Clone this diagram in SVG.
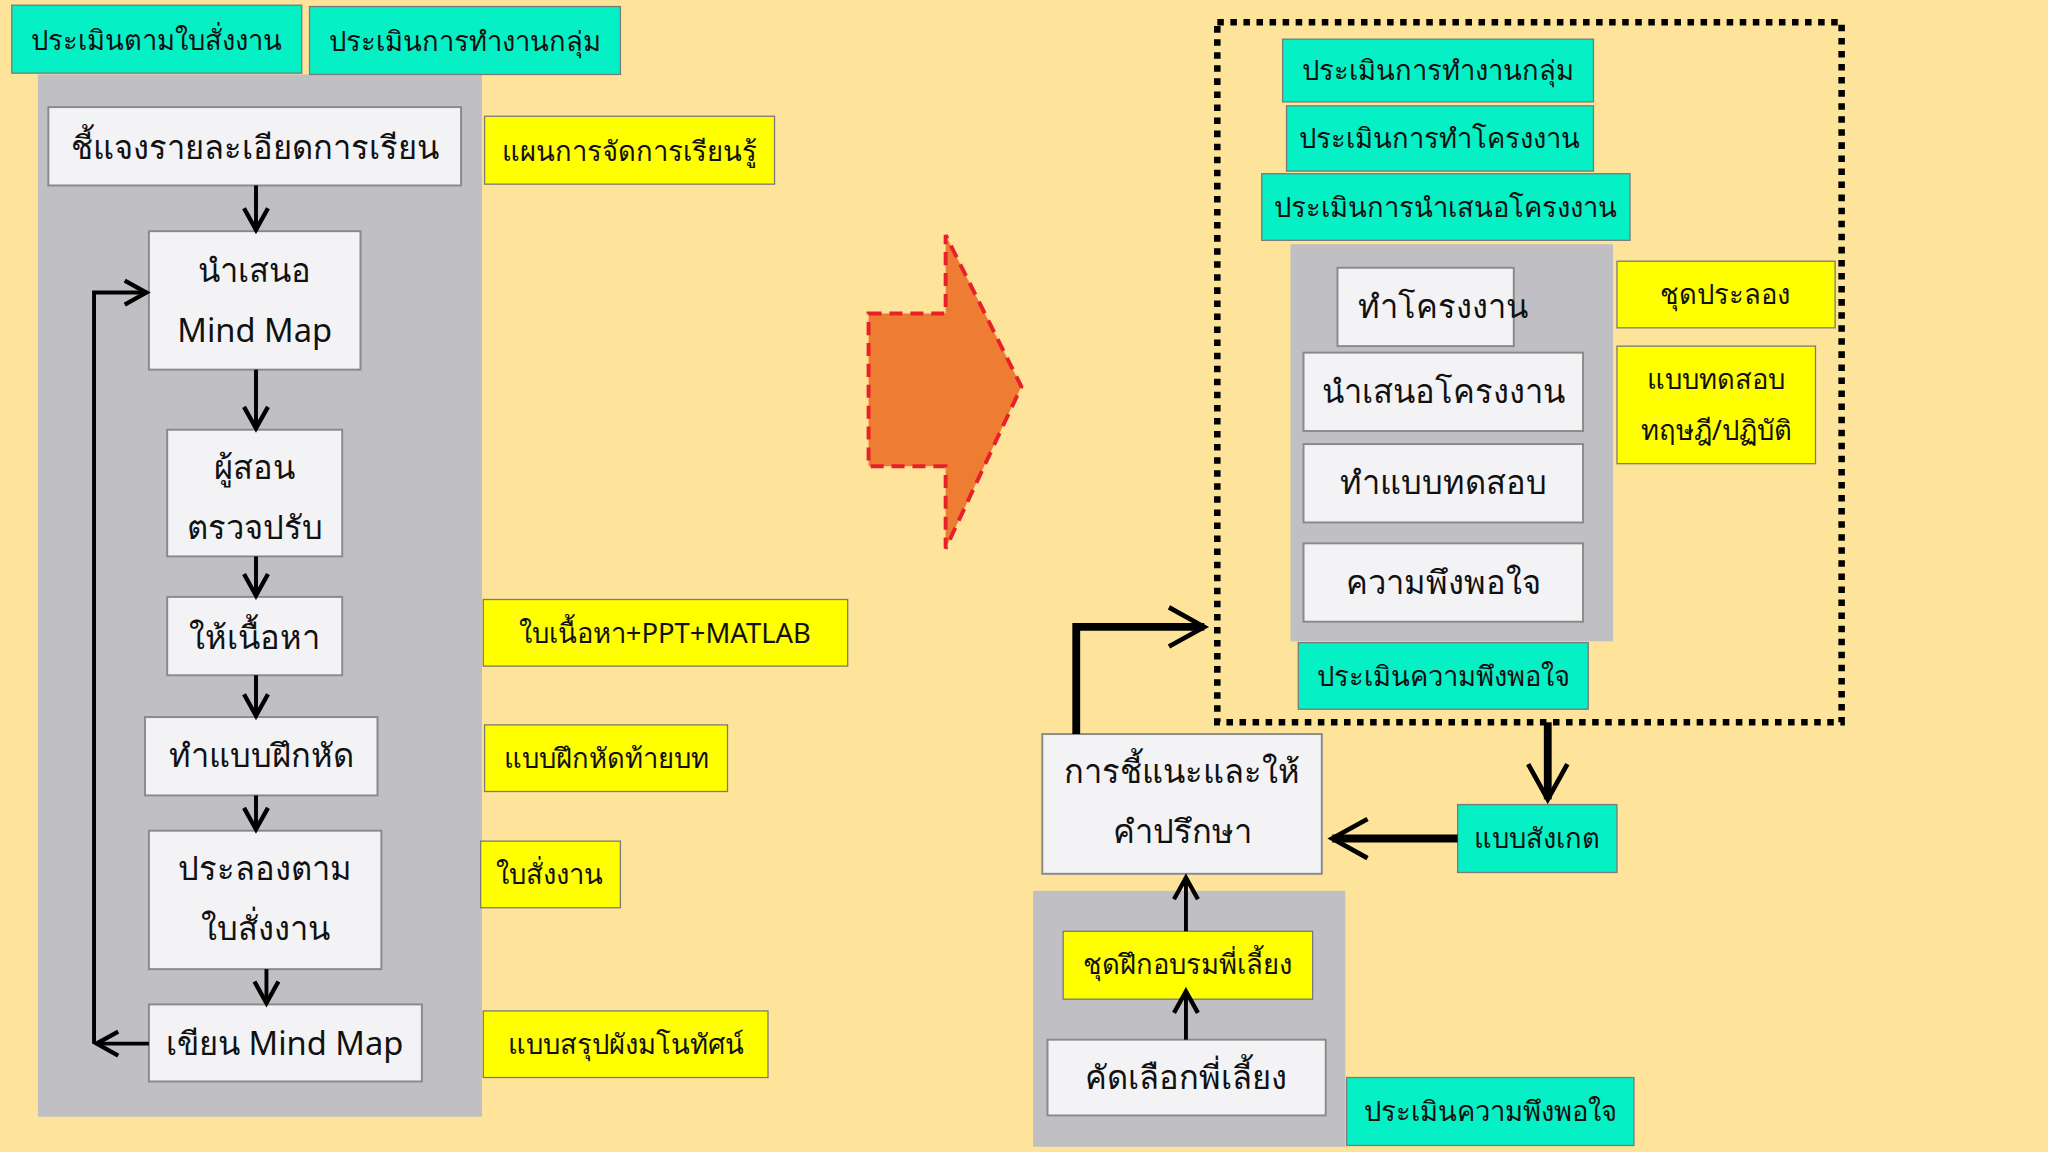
<svg xmlns="http://www.w3.org/2000/svg" width="2048" height="1152" viewBox="0 0 2048 1152">
<defs>
<style>
.t{fill:#05F0C4;stroke:#7a7a7a;stroke-width:1}
.y{fill:#FFFF00;stroke:#7a7a7a;stroke-width:1}
.w{fill:#F3F3F5;stroke:#8a8a8a;stroke-width:1.5}
.g{fill:#C0BFC4}
text{font-family:"Noto Sans","DejaVu Sans",sans-serif;fill:#111;text-anchor:middle;dominant-baseline:central}
.s{font-size:21px}
.m{font-size:25px}
.c{stroke:#000;stroke-width:3;fill:none}
.k{stroke:#000;stroke-width:6;fill:none}
</style>
<marker id="a" viewBox="0 0 12 12" refX="10" refY="6" markerWidth="6" markerHeight="6" orient="auto" markerUnits="userSpaceOnUse"><path d="M1,1 L10,6 L1,11" fill="none" stroke="#000" stroke-width="2"/></marker>
<marker id="b" viewBox="0 0 12 12" refX="10" refY="6" markerWidth="22" markerHeight="22" orient="auto" markerUnits="userSpaceOnUse"><path d="M1,1 L10,6 L1,11" fill="none" stroke="#000" stroke-width="1.8"/></marker>
<marker id="d" viewBox="0 0 12 12" refX="10" refY="6" markerWidth="36" markerHeight="36" orient="auto" markerUnits="userSpaceOnUse"><path d="M1,1 L10,6 L1,11" fill="none" stroke="#000" stroke-width="1.2"/></marker>
</defs>
<rect width="2048" height="1152" fill="#FEE49B"/>
<g transform="scale(1.30612)">
<rect class="g" x="29" y="57" width="340" height="798"/>
<g id="n1"><rect class="t" x="9" y="4" width="222" height="52"/><text class="s" x="120" y="30">ประเมินตามใบสั่งงาน</text></g>
<g id="n2"><rect class="t" x="237" y="5" width="238" height="52"/><text class="s" x="356" y="31">ประเมินการทำงานกลุ่ม</text></g>
<g id="n3"><rect class="w" x="37" y="82" width="316" height="60"/><text class="m" x="195" y="112">ชี้แจงรายละเอียดการเรียน</text></g>
<g id="n4"><rect class="w" x="114" y="177" width="162" height="106"/><text class="m" x="195" y="206">นำเสนอ</text><text class="m" x="195" y="252">Mind Map</text></g>
<g id="n5"><rect class="w" x="128" y="329" width="134" height="97"/><text class="m" x="195" y="357">ผู้สอน</text><text class="m" x="195" y="403">ตรวจปรับ</text></g>
<g id="n6"><rect class="w" x="128" y="457" width="134" height="60"/><text class="m" x="195" y="487">ให้เนื้อหา</text></g>
<g id="n7"><rect class="w" x="111" y="549" width="178" height="60"/><text class="m" x="200" y="578">ทำแบบฝึกหัด</text></g>
<g id="n8"><rect class="w" x="114" y="636" width="178" height="106"/><text class="m" x="203" y="664">ประลองตาม</text><text class="m" x="203" y="710">ใบสั่งงาน</text></g>
<g id="n9"><rect class="w" x="114" y="769" width="209" height="59"/><text class="m" x="218" y="798">เขียน Mind Map</text></g>
<g id="y1"><rect class="y" x="371" y="89" width="222" height="52"/><text class="s" x="482" y="115">แผนการจัดการเรียนรู้</text></g>
<g id="y2"><rect class="y" x="370" y="459" width="279" height="51"/><text class="s" x="509" y="484">ใบเนื้อหา+PPT+MATLAB</text></g>
<g id="y3"><rect class="y" x="371" y="555" width="186" height="51"/><text class="s" x="464" y="580">แบบฝึกหัดท้ายบท</text></g>
<g id="y4"><rect class="y" x="368" y="644" width="107" height="51"/><text class="s" x="421" y="669">ใบสั่งงาน</text></g>
<g id="y5"><rect class="y" x="370" y="774" width="218" height="51"/><text class="s" x="479" y="799">แบบสรุปผังมโนทัศน์</text></g>
<g id="bigarrow"><polygon points="665,240 724,240 724,180 782,296 724,420 724,357 665,357" fill="#EE7D33" stroke="#E8202A" stroke-width="3" stroke-dasharray="10,6"/></g>
<rect x="932" y="17" width="478" height="536" fill="none" stroke="#000" stroke-width="5" stroke-dasharray="5,5"/>
<g id="r1"><rect class="t" x="982" y="30" width="238" height="48"/><text class="s" x="1101" y="53">ประเมินการทำงานกลุ่ม</text></g>
<g id="r2"><rect class="t" x="985" y="81" width="235" height="50"/><text class="s" x="1102" y="105">ประเมินการทำโครงงาน</text></g>
<g id="r3"><rect class="t" x="966" y="133" width="282" height="51"/><text class="s" x="1107" y="158">ประเมินการนำเสนอโครงงาน</text></g>
<rect class="g" x="988" y="187" width="247" height="304"/>
<g id="r4"><rect class="w" x="1024" y="205" width="135" height="60"/><text class="m" x="1105" y="234">ทำโครงงาน</text></g>
<g id="r5"><rect class="w" x="998" y="270" width="214" height="60"/><text class="m" x="1105" y="299">นำเสนอโครงงาน</text></g>
<g id="r6"><rect class="w" x="998" y="340" width="214" height="60"/><text class="m" x="1105" y="369">ทำแบบทดสอบ</text></g>
<g id="r7"><rect class="w" x="998" y="416" width="214" height="60"/><text class="m" x="1105" y="445">ความพึงพอใจ</text></g>
<g id="r8"><rect class="y" x="1238" y="200" width="167" height="51"/><text class="s" x="1321" y="225">ชุดประลอง</text></g>
<g id="r9"><rect class="y" x="1238" y="265" width="152" height="90"/><text class="s" x="1314" y="290">แบบทดสอบ</text><text class="s" x="1314" y="329">ทฤษฎี/ปฏิบัติ</text></g>
<g id="r10"><rect class="t" x="994" y="492" width="222" height="51"/><text class="s" x="1105" y="517">ประเมินความพึงพอใจ</text></g>
<g id="r11"><rect class="w" x="798" y="562" width="214" height="107"/><text class="m" x="905" y="590">การชี้แนะและให้</text><text class="m" x="905" y="636">คำปรึกษา</text></g>
<g id="r12"><rect class="t" x="1116" y="616" width="122" height="52"/><text class="s" x="1177" y="641">แบบสังเกต</text></g>
<rect class="g" x="791" y="682" width="239" height="196"/>
<g id="r13"><rect class="y" x="814" y="713" width="191" height="52"/><text class="s" x="909" y="738">ชุดฝึกอบรมพี่เลี้ยง</text></g>
<g id="r14"><rect class="w" x="802" y="796" width="213" height="58"/><text class="m" x="908" y="824">คัดเลือกพี่เลี้ยง</text></g>
<g id="r15"><rect class="t" x="1031" y="825" width="220" height="52"/><text class="s" x="1141" y="850">ประเมินความพึงพอใจ</text></g>
<g id="connectors">
<line class="c" x1="196" y1="142" x2="196" y2="176" marker-end="url(#b)"/>
<line class="c" x1="196" y1="283" x2="196" y2="328" marker-end="url(#b)"/>
<line class="c" x1="196" y1="426" x2="196" y2="456" marker-end="url(#b)"/>
<line class="c" x1="196" y1="517" x2="196" y2="548" marker-end="url(#b)"/>
<line class="c" x1="196" y1="609" x2="196" y2="635" marker-end="url(#b)"/>
<line class="c" x1="204" y1="742" x2="204" y2="768" marker-end="url(#b)"/>
<line class="c" x1="114" y1="799" x2="74" y2="799" marker-end="url(#b)"/>
<polyline class="c" points="72,799 72,224 112,224" marker-end="url(#b)"/>
<polyline class="k" points="824,562 824,480 922,480" marker-end="url(#d)"/>
<line class="k" x1="1185" y1="553" x2="1185" y2="612" marker-end="url(#d)"/>
<line class="k" x1="1116" y1="642" x2="1020" y2="642" marker-end="url(#d)"/>
<line class="c" x1="908" y1="713" x2="908" y2="672" marker-end="url(#b)"/>
<line class="c" x1="908" y1="796" x2="908" y2="759" marker-end="url(#b)"/>
</g>
</g>
</svg>
